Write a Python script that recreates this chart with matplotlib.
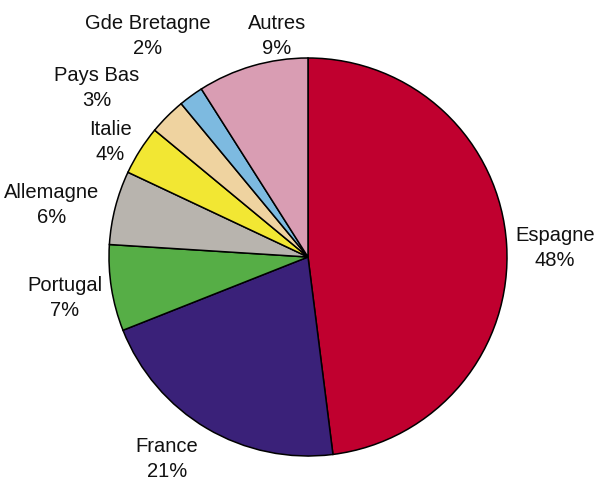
import matplotlib
matplotlib.use("Agg")
import matplotlib.pyplot as plt

# Parts by country (percent), clockwise from 12 o'clock
countries = ["Espagne", "France", "Portugal", "Allemagne", "Italie",
             "Pays Bas", "Gde Bretagne", "Autres"]
shares = [48, 21, 7, 6, 4, 3, 2, 9]
colors = ["#C0002F", "#3A2179", "#56AE46", "#B8B4AE", "#F2E733",
          "#EFD3A0", "#7DBAE0", "#D99DB3"]

# label anchor points in pixel space (x, y from top)
label_pos = [(555, 248), (167, 459), (65, 298), (52, 205), (110, 142),
             (97, 88), (148, 36), (277, 36)]

W, H = 599, 481
plt.rcParams["font.family"] = ["Liberation Sans", "DejaVu Sans"]

fig = plt.figure(figsize=(W / 100, H / 100), dpi=100)
ax = fig.add_axes([0, 0, 1, 1])

ax.pie(shares, colors=colors, startangle=90, counterclock=False,
       center=(308, H - 258), radius=199, frame=True,
       wedgeprops=dict(edgecolor="black", linewidth=1.1))
ax.set_xlim(0, W)
ax.set_ylim(0, H)
ax.set_aspect("equal")
ax.axis("off")

for name, val, (x, y) in zip(countries, shares, label_pos):
    ax.text(x, H - y, f"{name}\n{val}%", ha="center", va="center",
            fontsize=14.5, linespacing=1.45, color="#111111")

fig.savefig("out.png", dpi=100, facecolor="white")
